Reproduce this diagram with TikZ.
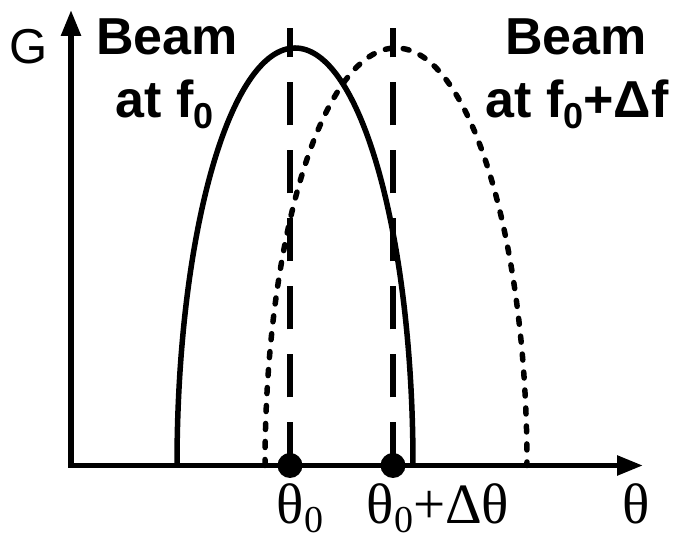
\documentclass[tikz,border=0pt]{standalone}
\usepackage{fontspec}
\setmainfont{Liberation Serif}
\newfontfamily\labfont{Liberation Sans}
\usetikzlibrary{arrows.meta}
\newcommand\lowsub[1]{\raisebox{-11pt}{\fontsize{36}{36}\selectfont #1}}
\newcommand\lowsubser[1]{\raisebox{-9pt}{\fontsize{38}{38}\selectfont #1}}
\tikzset{
  x=1pt,y=1pt,
  axisline/.style={line width=5.5pt,-{Triangle[length=26pt,width=19pt]}},
  beamsolid/.style={line width=5.5pt},
  beamdotted/.style={line width=5.5pt,line cap=round,dash pattern=on 6pt off 12pt},
  guide/.style={line width=5.5pt,dash pattern=on 43pt off 25pt},
  markdot/.style={circle,fill=black,minimum size=25pt,inner sep=0pt},
  beamlabel/.style={font=\labfont\bfseries\fontsize{52}{52}\selectfont,inner sep=0pt,anchor=base},
  axislabel/.style={font=\labfont\fontsize{49}{49}\selectfont,inner sep=0pt},
  anglelabel/.style={font=\fontsize{57}{57}\selectfont,inner sep=0pt,anchor=base}
}
\begin{document}
\begin{tikzpicture}
\useasboundingbox (0,0) rectangle (673,534);
% axes
\coordinate (O) at (71,68.5);
\coordinate (ytip) at (71,524);
\coordinate (xtip) at (643,68.5);
\draw[axisline] (O) -- (ytip);
\draw[axisline] ([xshift=-2.75pt]O) -- (xtip);
% beams
\coordinate (sA) at (177,68.5);
\coordinate (dA) at (265,68.5);
\draw[beamsolid] (sA) arc[start angle=180,end angle=0,x radius=118,y radius=417.5];
\draw[beamdotted] (dA) arc[start angle=180,end angle=0,x radius=131,y radius=417.5];
% markers and guides
\node[markdot] (t0) at (290,68.5) {};
\node[markdot] (t1) at (393,68.5) {};
\coordinate (g0) at (290,506);
\coordinate (g1) at (393,506);
\draw[guide] (t0.center) -- (g0);
\draw[guide] (t1.center) -- (g1);
% labels
\node[axislabel] (G) at (29,487) {G};
\node[beamlabel] (b1) at (167,479) {Beam};
\node[beamlabel] (b2) at (165,416) {at f\lowsub{0}};
\node[beamlabel] (b3) at (576,479) {Beam};
\node[beamlabel] (b4) at (577,416) {at f\lowsub{0}+Δf};
\node[anglelabel] (l0) at (300,10) {θ\lowsubser{0}};
\node[anglelabel] (l1) at (438,10) {θ\lowsubser{0}+Δθ};
\node[anglelabel] (l2) at (636,10) {θ};
\end{tikzpicture}
\end{document}
